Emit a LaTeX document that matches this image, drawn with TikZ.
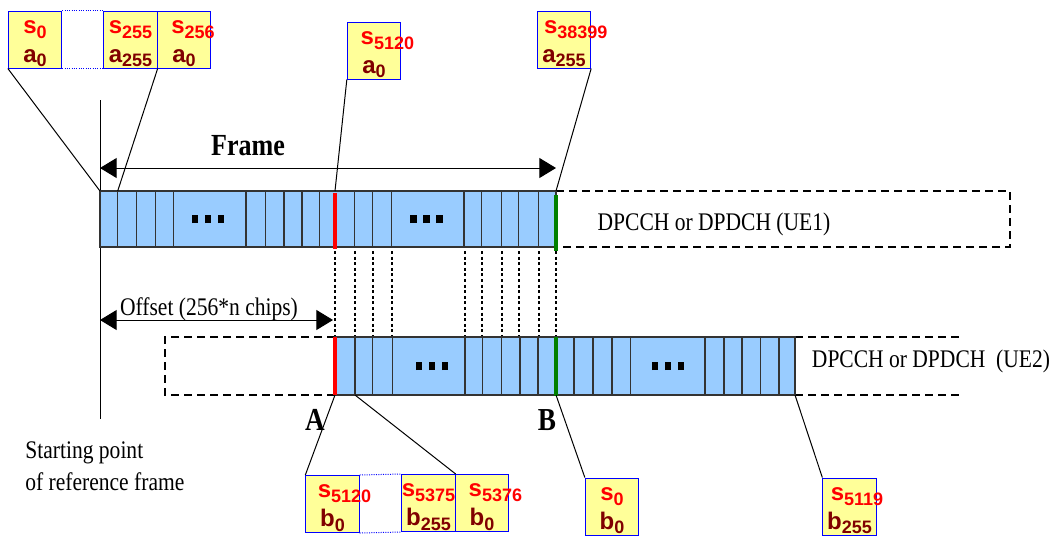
\documentclass[tikz,border=0pt]{standalone}
\usepackage{fontspec}
\setmainfont{Liberation Serif}[FakeStretch=0.85]
\newfontfamily\slotfont{Liberation Sans}
\usetikzlibrary{arrows.meta}

\definecolor{slotblue}{HTML}{99CCFF}
\definecolor{boxyellow}{HTML}{FFFF99}
\definecolor{darkred}{HTML}{800000}

% letter with lowered index, optional lead space
\newcommand{\slab}[4][0pt]{\hspace*{#1}\textcolor{#2}{#3\raisebox{-3.5pt}{\fontsize{13.5}{14}\selectfont #4}}}
\newcommand{\toprow}{\rule{0pt}{16pt}}
\newcommand{\sqbox}{\rule{4.9pt}{6pt}}
\newcommand{\sqdots}{\sqbox\hspace{4.9pt}\sqbox\hspace{4.9pt}\sqbox}

\tikzset{
  slotbox/.style={draw=blue, line width=0.75pt, fill=boxyellow, inner sep=0pt,
    minimum width=40pt, minimum height=42.75pt, text width=40pt, align=center,
    font=\slotfont\bfseries\fontsize{18}{21.4}\selectfont},
  barbox/.style={fill=slotblue, draw=black!80, line width=1pt},
  slotline/.style={draw=black!80, line width=1pt},
  dashbox/.style={line width=1.1pt, dash pattern=on 6pt off 3.75pt},
  vdots/.style={line width=1.5pt, dash pattern=on 2.2pt off 2pt},
  callout/.style={line width=0.75pt},
  dimarrow/.style={{Triangle[length=12.5pt,width=15pt]}-{Triangle[length=12.5pt,width=15pt]}, line width=0.75pt}
}

\begin{document}
\begin{tikzpicture}[x=0.75pt, y=-0.75pt, font=\fontsize{19}{24}\selectfont]
\useasboundingbox (0,0) rectangle (1056,537);

% reference line and arrows
\coordinate (reftop) at (100,100);
\coordinate (refbot) at (100,419);
\draw[callout] (reftop) -- (refbot);

\coordinate (frl) at (100,168);
\coordinate (frr) at (556,168);
\draw[dimarrow] (frl) -- (frr);
\node[anchor=base, font=\bfseries\fontsize{23}{23}\selectfont] (frametxt) at (248,155.7) {Frame};

\coordinate (offl) at (100,320);
\coordinate (offr) at (333,320);
\draw[dimarrow] (offl) -- (offr);
\node[anchor=base] (offtxt) at (209,315) {Offset (256*n chips)};

% UE1
\draw[dashbox] (556,191) -- (1010,191) -- (1010,247) -- (556,247);
\draw[barbox] (100,191) rectangle (556,247);
\foreach \x in {117.7,136.7,155.3,173.3,246,265.7,284,302,319.3,354.3,372.7,391.3,464,481.3,501.3,518.3,538.7}
  \draw[slotline] (\x,191) -- (\x,247);
\draw[red, line width=3.4pt] (335,193) -- (335,249);
\draw[green!50!black, line width=3.4pt] (556,195) -- (556,251);
\node (dots1) at (208,219) {\sqdots};
\node (dots2) at (426.5,219) {\sqdots};
\node[anchor=base] (ue1) at (714,230) {DPCCH or DPDCH (UE1)};

% alignment lines
\foreach \x in {335,355,372.5,392,464.5,482,501.5,519,538.5,556}
  \draw[vdots] (\x,251) -- (\x,337);

% UE2
\draw[dashbox] (335,337) -- (165,337) -- (165,395) -- (335,395);
\draw[dashbox] (795,337) -- (963,337);
\draw[dashbox] (795,395) -- (963,395);
\draw[barbox] (335,337) rectangle (795,395);
\foreach \x in {355,372.5,392.5,465,482.5,501.5,520,538,574,593,612,630.5,705,724,742,760.5,779}
  \draw[slotline] (\x,337) -- (\x,395);
\draw[red, line width=3.4pt] (335,337) -- (335,395);
\draw[green!50!black, line width=3.4pt] (556,337) -- (556,396);
\node (dots3) at (432,366) {\sqdots};
\node (dots4) at (668,366) {\sqdots};
\node[anchor=base] (ue2) at (931,367) {DPCCH or DPDCH\ \ (UE2)};

\node[anchor=base, font=\bfseries\fontsize{24}{24}\selectfont] (ptA) at (315,430) {A};
\node[anchor=base, font=\bfseries\fontsize{24}{24}\selectfont] (ptB) at (547,430) {B};
\node[anchor=base west, align=left] (start) at (20.7,490) {Starting point\\of reference frame};

% top sample boxes
\node[slotbox] (sa0) at (35,39.5) {\toprow\slab{red}{s}{0}\\\slab{darkred}{a}{0}};
\node[slotbox] (sa255) at (130.5,39.5) {\toprow\slab{red}{s}{255}\\\slab{darkred}{a}{255}};
\node[slotbox] (sa256) at (184,39.5) {\toprow\slab[10.5pt]{red}{s}{256}\\\slab{darkred}{a}{0}};
\node[slotbox] (sa5120) at (374,50.5) {\toprow\slab[10pt]{red}{s}{5120}\\\slab{darkred}{a}{0}};
\node[slotbox] (sa38399) at (564,39.5) {\toprow\slab[5pt]{red}{s}{38399}\\\slab{darkred}{a}{255}};
\draw[blue, densely dotted, line width=0.75pt] (sa0.north east) -- (sa255.north west);
\draw[blue, densely dotted, line width=0.75pt] (sa0.south east) -- (sa255.south west);

% bottom sample boxes
\node[slotbox] (sb5120) at (332.5,504) {\toprow\slab[9pt]{red}{s}{5120}\\\slab{darkred}{b}{0}};
\node[slotbox] (sb5375) at (428.5,503) {\toprow\slab{red}{s}{5375}\\\slab{darkred}{b}{255}};
\node[slotbox] (sb5376) at (482,503) {\toprow\slab[10pt]{red}{s}{5376}\\\slab{darkred}{b}{0}};
\node[slotbox] (sb0) at (612,506.5) {\toprow\slab{red}{s}{0}\\\slab{darkred}{b}{0}};
\node[slotbox] (sb5119) at (849.5,506.5) {\toprow\slab[6pt]{red}{s}{5119}\\\slab{darkred}{b}{255}};
\draw[blue, densely dotted, line width=0.75pt] (sb5120.north east) -- (sb5375.north west);
\draw[blue, densely dotted, line width=0.75pt] (sb5120.south east) -- (sb5375.south west);

% callouts
\coordinate (u1nw) at (100,191);
\coordinate (u1s1) at (117.7,191);
\coordinate (u1red) at (335,191);
\coordinate (u1grn) at (556,191);
\coordinate (u2red) at (335,395);
\coordinate (u2s1) at (355,395);
\coordinate (u2grn) at (556,395);
\coordinate (u2se) at (795,395);
\draw[callout] (sa0.south west) -- (u1nw);
\draw[callout] (sa255.south east) -- (u1s1);
\draw[callout] (sa5120.south west) -- (u1red);
\draw[callout] (sa38399.south east) -- (u1grn);
\draw[callout] (u2red) -- (sb5120.north west);
\draw[callout] (u2s1) -- (sb5375.north east);
\draw[callout] (u2grn) -- (sb0.north west);
\draw[callout] (u2se) -- (sb5119.north west);
\end{tikzpicture}
\end{document}
